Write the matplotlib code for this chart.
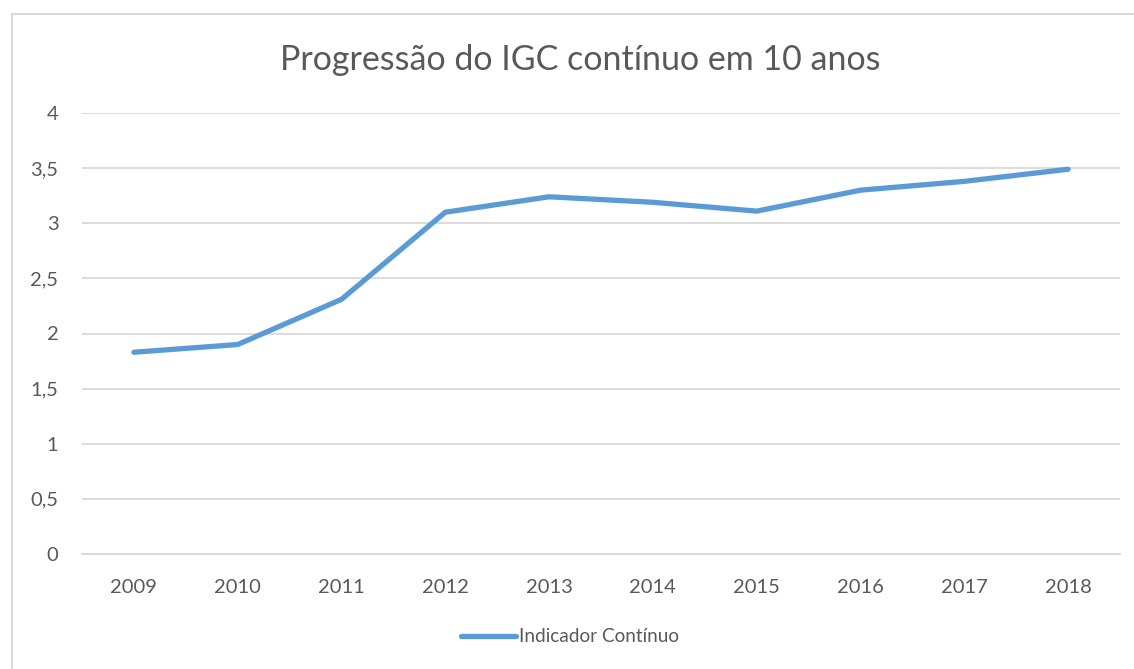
import matplotlib.pyplot as plt
from matplotlib.lines import Line2D

# data
anos = ['2009', '2010', '2011', '2012', '2013', '2014', '2015', '2016', '2017', '2018']
igc_continuo = [1.83, 1.90, 2.31, 3.10, 3.24, 3.19, 3.11, 3.30, 3.38, 3.49]
y_ticks = [0, 0.5, 1, 1.5, 2, 2.5, 3, 3.5, 4]
y_labels = ['0', '0,5', '1', '1,5', '2', '2,5', '3', '3,5', '4']

plt.rcParams['font.family'] = ['Lato', 'DejaVu Sans']
text_color = '#595959'
grid_color = '#D9D9D9'
line_color = '#5B9BD5'

W, H = 1134, 669
fig = plt.figure(figsize=(W / 100, H / 100), dpi=100)
ax = fig.add_axes([82 / W, 1 - 554 / H, (1120 - 82) / W, (554 - 113) / H])

x = range(len(anos))
ax.plot(x, igc_continuo, color=line_color, lw=3.8, solid_capstyle='round',
        solid_joinstyle='round', zorder=3)

ax.set_xlim(-0.5, len(anos) - 0.5)
ax.set_ylim(0, 4)
ax.set_xticks(list(x))
ax.set_xticklabels(anos)
ax.set_yticks(y_ticks)
ax.set_yticklabels(y_labels)
ax.tick_params(axis='both', length=0, colors=text_color, labelsize=14.5)
ax.tick_params(axis='x', pad=18)
ax.tick_params(axis='y', pad=17)
ax.grid(axis='y', color=grid_color, lw=1.3)
for s in ax.spines.values():
    s.set_visible(False)
ax.spines['bottom'].set_visible(True)
ax.spines['bottom'].set_color(grid_color)
ax.spines['bottom'].set_linewidth(1.3)

fig.text(580 / W, 1 - 60 / H, 'Progressão do IGC contínuo em 10 anos',
         ha='center', va='center', fontsize=24.5, color=text_color)

# legend
handle = Line2D([], [], color=line_color, lw=3.8, solid_capstyle='round')
fig.legend([handle], ['Indicador Contínuo'], loc='center',
           bbox_to_anchor=(570 / W, 1 - 637 / H), frameon=False,
           fontsize=13.7, labelcolor=text_color, handlelength=2.9,
           handletextpad=0.2)

# chart border (left and top)
fig.add_artist(Line2D([12 / W, 12 / W], [0, 1 - 14 / H], color=grid_color, lw=1.5))
fig.add_artist(Line2D([12 / W, 1], [1 - 14 / H, 1 - 14 / H], color=grid_color, lw=1.5))

fig.savefig('out.png', dpi=100)
